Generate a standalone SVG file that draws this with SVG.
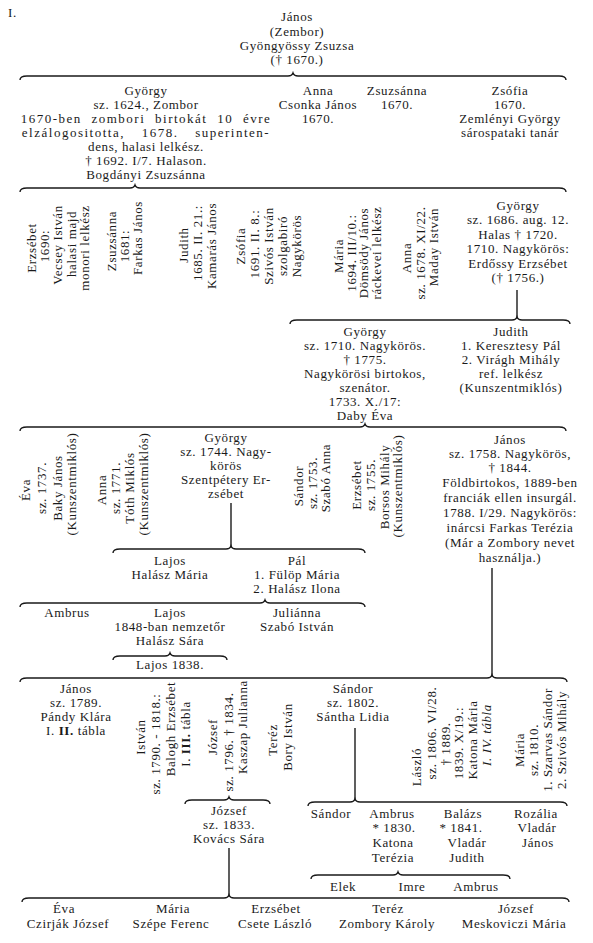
<svg xmlns="http://www.w3.org/2000/svg" width="593" height="943" viewBox="0 0 593 943">
<style>
.t{font-family:"Liberation Serif","Times New Roman",serif;font-size:13px;letter-spacing:0.6px;fill:#1a1a1a;text-anchor:middle}
.s{text-anchor:start}
.c{fill:none;stroke:#1a1a1a;stroke-width:1.4}
</style>
<rect width="593" height="943" fill="#ffffff"/>
<g id="sheet-label"><text class="t s" x="8" y="17">I.</text></g>
<g id="connectors">
<path class="c" d="M20 80 Q20 76 27 76 L288 76 Q292 76 293 73 Q294 76 298 76 L559 76 Q566 76 566 80"/>
<path class="c" d="M20 192 Q20 188 27 188 L130 188 Q134 188 135 185 Q136 188 140 188 L559 188 Q566 188 566 192"/>
<path class="c" d="M517 290 L517 317"/>
<path class="c" d="M290 324 Q290 320 297 320 L512 320 Q516 320 517 317 Q518 320 522 320 L563 320 Q570 320 570 324"/>
<path class="c" d="M20 431 Q20 427 27 427 L360 427 Q364 427 365 424 Q366 427 370 427 L559 427 Q566 427 566 431"/>
<path class="c" d="M231 503 L231 546"/>
<path class="c" d="M113 553 Q113 549 120 549 L226 549 Q230 549 231 546 Q232 549 236 549 L358 549 Q365 549 365 553"/>
<path class="c" d="M20 607 Q20 603 27 603 L260 603 Q264 603 265 600 Q266 603 270 603 L358 603 Q365 603 365 607"/>
<path class="c" d="M113 660 Q113 656 120 656 L165 656 Q169 656 170 653 Q171 656 175 656 L220 656 Q227 656 227 660"/>
<path class="c" d="M492 568 L492 675"/>
<path class="c" d="M20 682 Q20 678 27 678 L487 678 Q491 678 492 675 Q493 678 497 678 L560 678 Q567 678 567 682"/>
<path class="c" d="M185 804 Q185 800 192 800 L224 800 Q228 800 229 797 Q230 800 234 800 L263 800 Q270 800 270 804"/>
<path class="c" d="M355 728 L355 799"/>
<path class="c" d="M308 806 Q308 802 315 802 L350 802 Q354 802 355 799 Q356 802 360 802 L560 802 Q567 802 567 806"/>
<path class="c" d="M311 879 Q311 875 318 875 L393 875 Q397 875 398 872 Q399 875 403 875 L503 875 Q510 875 510 879"/>
<path class="c" d="M229 848 L229 895"/>
<path class="c" d="M22 902 Q22 898 29 898 L224 898 Q228 898 229 895 Q230 898 234 898 L562 898 Q569 898 569 902"/>
</g>
<g id="n-janos-zembor">
<text class="t" x="297" y="21">János</text>
<text class="t" x="297" y="36">(Zembor)</text>
<text class="t" x="297" y="50">Gyöngyössy Zsuzsa</text>
<text class="t" x="297" y="64">(† 1670.)</text>
</g>
<g id="n-gyorgy-1624">
<text class="t" x="146" y="95">György</text>
<text class="t" x="146" y="109">sz. 1624., Zombor</text>
<text class="t" x="146" y="123" style="letter-spacing:1.5px;word-spacing:5px">1670-ben zombori birtokát 10 évre</text>
<text class="t" x="146" y="137" style="letter-spacing:1.5px;word-spacing:12px">elzálogositotta, 1678. superinten-</text>
<text class="t" x="146" y="151">dens, halasi lelkész.</text>
<text class="t" x="146" y="165">† 1692. I/7. Halason.</text>
<text class="t" x="146" y="179">Bogdányi Zsuzsánna</text>
</g>
<g id="n-anna-csonka">
<text class="t" x="318" y="95">Anna</text>
<text class="t" x="318" y="109">Csonka János</text>
<text class="t" x="318" y="123">1670.</text>
</g>
<g id="n-zsuzsanna-1670">
<text class="t" x="397" y="95">Zsuzsánna</text>
<text class="t" x="397" y="109">1670.</text>
</g>
<g id="n-zsofia-1670">
<text class="t" x="510" y="95">Zsófia</text>
<text class="t" x="510" y="109">1670.</text>
<text class="t" x="510" y="123">Zemlényi György</text>
<text class="t" x="510" y="137">sárospataki tanár</text>
</g>
<g id="n-erzsebet-1690">
<text class="t" transform="translate(36,248) rotate(-90)">Erzsébet</text>
<text class="t" transform="translate(49,246) rotate(-90)">1690:</text>
<text class="t" transform="translate(62,245) rotate(-90)">Vecsey István</text>
<text class="t" transform="translate(76,244) rotate(-90)">halasi majd</text>
<text class="t" transform="translate(89,248) rotate(-90)">monori lelkész</text>
</g>
<g id="n-zsuzsanna-1681">
<text class="t" transform="translate(116,241) rotate(-90)">Zsuzsánna</text>
<text class="t" transform="translate(129,246) rotate(-90)">1681:</text>
<text class="t" transform="translate(142,238) rotate(-90)">Farkas János</text>
</g>
<g id="n-judith-1685">
<text class="t" transform="translate(188,245) rotate(-90)">Judith</text>
<text class="t" transform="translate(202,243) rotate(-90)">1685. II. 21.:</text>
<text class="t" transform="translate(216,246) rotate(-90)">Kamarás János</text>
</g>
<g id="n-zsofia-1691">
<text class="t" transform="translate(245,246) rotate(-90)">Zsófia</text>
<text class="t" transform="translate(259,244) rotate(-90)">1691. II. 8.:</text>
<text class="t" transform="translate(273,246) rotate(-90)">Szivós István</text>
<text class="t" transform="translate(287,246) rotate(-90)">szolgabiró</text>
<text class="t" transform="translate(301,246) rotate(-90)">Nagykörös</text>
</g>
<g id="n-maria-1694">
<text class="t" transform="translate(343,256) rotate(-90)">Mária</text>
<text class="t" transform="translate(356,253) rotate(-90)">1694. III/10.:</text>
<text class="t" transform="translate(368,253) rotate(-90)">Dömsödy János</text>
<text class="t" transform="translate(381,253) rotate(-90)">ráckevei lelkész</text>
</g>
<g id="n-anna-1678">
<text class="t" transform="translate(411,258) rotate(-90)">Anna</text>
<text class="t" transform="translate(425,253) rotate(-90)">sz. 1678. XI/22.</text>
<text class="t" transform="translate(438,247) rotate(-90)">Maday István</text>
</g>
<g id="n-gyorgy-1686">
<text class="t" x="518" y="210">György</text>
<text class="t" x="518" y="224">sz. 1686. aug. 12.</text>
<text class="t" x="518" y="239">Halas  † 1720.</text>
<text class="t" x="518" y="253">1710. Nagykörös:</text>
<text class="t" x="518" y="268">Erdőssy Erzsébet</text>
<text class="t" x="518" y="282">(† 1756.)</text>
</g>
<g id="n-gyorgy-1710">
<text class="t" x="365" y="336">György</text>
<text class="t" x="365" y="350">sz. 1710. Nagykörös.</text>
<text class="t" x="365" y="364">† 1775.</text>
<text class="t" x="365" y="378">Nagykörösi birtokos,</text>
<text class="t" x="365" y="392">szenátor.</text>
<text class="t" x="365" y="406">1733. X./17:</text>
<text class="t" x="365" y="420">Daby Éva</text>
</g>
<g id="n-judith-keresztesy">
<text class="t" x="511" y="336">Judith</text>
<text class="t" x="511" y="350">1. Keresztesy Pál</text>
<text class="t" x="511" y="364">2. Virágh Mihály</text>
<text class="t" x="511" y="378">ref. lelkész</text>
<text class="t" x="511" y="392">(Kunszentmiklós)</text>
</g>
<g id="n-eva-1737">
<text class="t" transform="translate(30,490) rotate(-90)">Éva</text>
<text class="t" transform="translate(46,488) rotate(-90)">sz. 1737.</text>
<text class="t" transform="translate(62,488) rotate(-90)">Baky János</text>
<text class="t" transform="translate(76,484) rotate(-90)">(Kunszentmiklós)</text>
</g>
<g id="n-anna-1771">
<text class="t" transform="translate(106,490) rotate(-90)">Anna</text>
<text class="t" transform="translate(120,488) rotate(-90)">sz. 1771.</text>
<text class="t" transform="translate(134,488) rotate(-90)">Tóth Miklós</text>
<text class="t" transform="translate(148,484) rotate(-90)">(Kunszentmiklós)</text>
</g>
<g id="n-gyorgy-1744">
<text class="t" x="226" y="442">György</text>
<text class="t" x="226" y="456">sz. 1744. Nagy-</text>
<text class="t" x="226" y="470">körös</text>
<text class="t" x="226" y="484">Szentpétery Er-</text>
<text class="t" x="226" y="498">zsébet</text>
</g>
<g id="n-sandor-1753">
<text class="t" transform="translate(303,486) rotate(-90)">Sándor</text>
<text class="t" transform="translate(317,483) rotate(-90)">sz. 1753.</text>
<text class="t" transform="translate(330,478) rotate(-90)">Szabó Anna</text>
</g>
<g id="n-erzsebet-1755">
<text class="t" transform="translate(361,485) rotate(-90)">Erzsébet</text>
<text class="t" transform="translate(375,485) rotate(-90)">sz. 1755.</text>
<text class="t" transform="translate(389,487) rotate(-90)">Borsos Mihály</text>
<text class="t" transform="translate(402,486) rotate(-90)">(Kunszentmiklós)</text>
</g>
<g id="n-janos-1758">
<text class="t" x="510" y="444">János</text>
<text class="t" x="510" y="458">sz. 1758. Nagykörös,</text>
<text class="t" x="510" y="472">† 1844.</text>
<text class="t" x="510" y="487">Földbirtokos, 1889-ben</text>
<text class="t" x="510" y="502">franciák ellen insurgál.</text>
<text class="t" x="510" y="517">1788. I/29. Nagykörös:</text>
<text class="t" x="510" y="532">inárcsi Farkas Terézia</text>
<text class="t" x="510" y="547">(Már a Zombory nevet</text>
<text class="t" x="510" y="562">használja.)</text>
</g>
<g id="n-lajos-halasz-maria">
<text class="t" x="170" y="565">Lajos</text>
<text class="t" x="170" y="579">Halász Mária</text>
</g>
<g id="n-pal">
<text class="t" x="297" y="565">Pál</text>
<text class="t" x="297" y="579">1. Fülöp Mária</text>
<text class="t" x="297" y="593">2. Halász Ilona</text>
</g>
<g id="n-ambrus">
<text class="t" x="67" y="617">Ambrus</text>
</g>
<g id="n-lajos-1848">
<text class="t" x="170" y="617">Lajos</text>
<text class="t" x="170" y="631">1848-ban nemzetőr</text>
<text class="t" x="170" y="645">Halász Sára</text>
</g>
<g id="n-julianna">
<text class="t" x="297" y="617">Juliánna</text>
<text class="t" x="297" y="631">Szabó István</text>
</g>
<g id="n-lajos-1838">
<text class="t" x="170" y="669">Lajos 1838.</text>
</g>
<g id="n-janos-1789">
<text class="t" x="76" y="693">János</text>
<text class="t" x="76" y="707">sz. 1789.</text>
<text class="t" x="76" y="721">Pándy Klára</text>
<text class="t" x="76" y="735">I. <tspan font-weight="bold">II.</tspan> tábla</text>
</g>
<g id="n-istvan-1790">
<text class="t" transform="translate(145,737) rotate(-90)">István</text>
<text class="t" transform="translate(160,744) rotate(-90)">sz. 1790. - 1818.:</text>
<text class="t" transform="translate(175,729) rotate(-90)">Balogh Erzsébet</text>
<text class="t" transform="translate(190,734) rotate(-90)">I. <tspan font-weight="bold">III.</tspan> tábla</text>
</g>
<g id="n-jozsef-1796">
<text class="t" transform="translate(217,737) rotate(-90)">József</text>
<text class="t" transform="translate(233,742) rotate(-90)">sz. 1796. † 1834.</text>
<text class="t" transform="translate(247,727) rotate(-90)">Kaszap Julianna</text>
</g>
<g id="n-terez-bory">
<text class="t" transform="translate(277,740) rotate(-90)">Teréz</text>
<text class="t" transform="translate(292,737) rotate(-90)">Bory István</text>
</g>
<g id="n-sandor-1802">
<text class="t" x="353" y="693">Sándor</text>
<text class="t" x="353" y="707">sz. 1802.</text>
<text class="t" x="353" y="721">Sántha Lidia</text>
</g>
<g id="n-laszlo-1806">
<text class="t" transform="translate(421,767) rotate(-90)">László</text>
<text class="t" transform="translate(436,733) rotate(-90)">sz. 1806. VI/28.</text>
<text class="t" transform="translate(450,744) rotate(-90)">† 1889.</text>
<text class="t" transform="translate(463,743) rotate(-90)">1839. X/19.:</text>
<text class="t" transform="translate(477,740) rotate(-90)">Katona Mária</text>
<text class="t" transform="translate(491,735) rotate(-90)" font-style="italic">I. IV. tábla</text>
</g>
<g id="n-maria-1810">
<text class="t" transform="translate(524,750) rotate(-90)">Mária</text>
<text class="t" transform="translate(538,750) rotate(-90)">sz. 1810.</text>
<text class="t" transform="translate(552,740) rotate(-90)">1. Szarvas Sándor</text>
<text class="t" transform="translate(566,740) rotate(-90)">2. Szivós Mihály</text>
</g>
<g id="n-jozsef-1833">
<text class="t" x="229" y="815">József</text>
<text class="t" x="229" y="829">sz. 1833.</text>
<text class="t" x="229" y="843">Kovács Sára</text>
</g>
<g id="n-sandor-jr">
<text class="t" x="331" y="818">Sándor</text>
</g>
<g id="n-ambrus-1830">
<text class="t" x="392" y="818">Ambrus</text>
<text class="t" x="394" y="832">* 1830.</text>
<text class="t" x="393" y="847">Katona</text>
<text class="t" x="393" y="862">Terézia</text>
</g>
<g id="n-balazs-1841">
<text class="t" x="463" y="818">Balázs</text>
<text class="t" x="461" y="832">* 1841.</text>
<text class="t" x="467" y="847">Vladár</text>
<text class="t" x="467" y="862">Judith</text>
</g>
<g id="n-rozalia">
<text class="t" x="536" y="818">Rozália</text>
<text class="t" x="537" y="832">Vladár</text>
<text class="t" x="538" y="847">János</text>
</g>
<g id="n-elek"><text class="t" x="343" y="891">Elek</text></g>
<g id="n-imre"><text class="t" x="412" y="891">Imre</text></g>
<g id="n-ambrus-jr"><text class="t" x="476" y="891">Ambrus</text></g>
<g id="n-eva-czirjak">
<text class="t" x="64" y="913">Éva</text>
<text class="t" x="68" y="928">Czirják József</text>
</g>
<g id="n-maria-szepe">
<text class="t" x="173" y="913">Mária</text>
<text class="t" x="171" y="928">Szépe Ferenc</text>
</g>
<g id="n-erzsebet-csete">
<text class="t" x="276" y="913">Erzsébet</text>
<text class="t" x="275" y="928">Csete László</text>
</g>
<g id="n-terez-zombory">
<text class="t" x="388" y="913">Teréz</text>
<text class="t" x="387" y="928">Zombory  Károly</text>
</g>
<g id="n-jozsef-meskoviczi">
<text class="t" x="516" y="913">József</text>
<text class="t" x="514" y="928">Meskoviczi Mária</text>
</g>
</svg>
